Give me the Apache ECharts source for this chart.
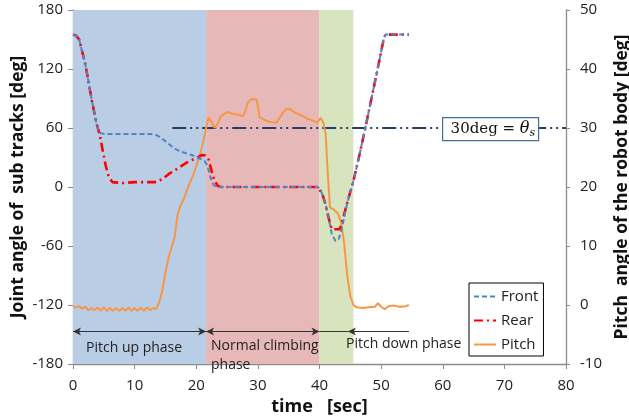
<!DOCTYPE html>
<html>
<head>
<meta charset="utf-8">
<script src="https://cdn.jsdelivr.net/npm/echarts@6/dist/echarts.min.js"></script>
<style>
  html, body { margin: 0; padding: 0; background: #fff; }
  #chart { width: 629px; height: 419px; }
</style>
</head>
<body>
<div id="chart"></div>
<script>
// [time (sec), joint angle (deg)]
const frontData = [
  [0, 155], [0.5, 154], [1, 150], [2, 125], [3, 90], [3.8, 65], [4.3, 55], [5, 54], [7, 54], [9, 54],
  [11, 54], [12.5, 54], [13.5, 53], [14.5, 49], [15.5, 44], [16.5, 39], [17.5, 36], [18.5, 34], [19.5, 32],
  [20.5, 29], [21.3, 27], [21.8, 22], [22.3, 10], [22.8, 2], [23.3, 0], [30, 0], [39.7, 0], [40.1, -2],
  [40.5, -8], [41, -18], [41.5, -32], [42, -48], [42.6, -55], [43.1, -53], [43.6, -43], [44.1, -28],
  [44.6, -14], [45.5, 6], [46.5, 33], [47.5, 62], [48.5, 92], [49.5, 122], [50.4, 150], [50.7, 155], [54.5, 155]
]
const rearData = [
  [0, 155], [0.5, 154], [1, 150], [2, 125], [3, 90], [3.8, 65], [4.3, 54], [4.8, 38], [5.3, 22], [5.8, 10],
  [6.4, 5], [8, 4], [10, 5], [12, 5], [13.5, 5], [14.5, 8], [15.5, 13], [16.5, 17], [17.5, 21], [18.5, 25],
  [19.5, 28], [20.5, 31], [21, 32.5], [21.5, 32], [22, 28], [22.5, 16], [23, 6], [23.5, 1], [24, 0], [39.8, 0],
  [40.5, -8], [41, -18], [41.5, -32], [42, -43], [43.3, -43], [43.8, -33], [44.4, -18], [45.5, 6], [46.5, 33],
  [47.5, 62], [48.5, 92], [49.5, 122], [50.4, 150], [50.7, 155], [54.5, 155]
]
// [time (sec), pitch angle (deg)]
const pitchData = [
  [0, -0.3], [0.5, -0.4], [1, -0.2], [1.5, -0.6], [2, -0.3], [2.5, -0.9], [3, -0.5], [3.5, -0.9], [4, -0.4],
  [4.5, -1.0], [5, -0.4], [5.5, -1.0], [6, -0.5], [6.5, -1.0], [7, -0.5], [7.5, -1.0], [8, -0.5], [8.5, -1.0],
  [9, -0.4], [9.5, -1.0], [10, -0.5], [10.5, -1.0], [11, -0.4], [11.5, -1.0], [12, -0.4], [12.5, -0.9],
  [13, -0.5], [13.5, -0.7], [14, 0.5], [14.5, 2.5], [15, 5.5], [15.5, 8], [16, 9.8], [16.5, 11.5], [17, 15.5],
  [17.5, 17], [18, 18], [18.5, 19.5], [19, 20.8], [19.5, 22], [20, 23.5], [20.5, 25.2], [21, 27], [21.5, 29.5],
  [22, 31.8], [22.5, 31], [23, 30], [23.5, 30.8], [24, 32], [25, 32.7], [26, 32.4], [27, 32.2], [27.6, 32.0],
  [28, 33], [28.4, 34.4], [29, 34.9], [29.8, 34.8], [30.3, 31.8], [31, 31.4], [32, 31], [33, 30.9], [34, 32.5],
  [34.6, 33.2], [35.2, 33.2], [36, 32.6], [37, 32.2], [38, 31.6], [39, 31.2], [39.6, 30.9], [40.2, 31.7],
  [40.6, 31], [41, 29], [41.3, 23], [41.7, 16.5], [42.3, 16.2], [43, 15.5], [43.5, 14], [44, 10.5], [44.5, 5],
  [45, 1.5], [45.5, 0], [46, -0.4], [47, -0.5], [48, -0.4], [49, -0.3], [49.5, 0.3], [50, -0.3], [50.6, -0.7],
  [51.2, -0.2], [52, -0.1], [53, -0.3], [54, -0.2], [54.5, 0]
]
// phase boundaries (sec) and the threshold line
const phaseBounds = [0, 21.6, 40, 45.5]
const phaseColors = ['#b9cde5', '#e6b9b8', '#d7e4bd']
const thresholdLine = [[16.1, 30], [80, 30]]
const arrowY = -147
const pitchDownEnd = 54.5

const chart = echarts.init(document.getElementById('chart'))

const axisFont = { fontFamily: 'Open Sans', fontSize: 15, color: '#222' }
const titleFont = { fontFamily: 'Open Sans', fontSize: 17.5, fontWeight: 'bold', color: '#111' }
const greyLine = { lineStyle: { color: '#8c8c8c', width: 1.3 } }

let option = {
  animation: false,
  grid: { left: 73, right: 63, top: 10, bottom: 55, outerBoundsMode: 'none', containLabel: false },
  xAxis: {
    type: 'value', min: 0, max: 80, interval: 10,
    axisLine: Object.assign({ onZero: false }, greyLine),
    axisTick: { show: true, length: 5, lineStyle: { color: '#8c8c8c' } },
    axisLabel: Object.assign({ margin: 14 }, axisFont),
    splitLine: { show: false },
    name: 'time   [sec]', nameLocation: 'middle', nameGap: 31,
    nameTextStyle: Object.assign({}, titleFont, { fontSize: 18 })
  },
  yAxis: [
    {
      type: 'value', min: -180, max: 180, interval: 60,
      axisLine: Object.assign({ show: true, onZero: false }, greyLine),
      axisTick: { show: true, length: 5, lineStyle: { color: '#8c8c8c' } },
      axisLabel: Object.assign({ margin: 10 }, axisFont),
      splitLine: { show: false },
      name: 'Joint angle of  sub tracks [deg]', nameLocation: 'middle', nameGap: 46, nameRotate: 90,
      nameMoveOverlap: false,
      nameTextStyle: titleFont
    },
    {
      type: 'value', min: -10, max: 50, interval: 10, position: 'right',
      axisLine: Object.assign({ show: true, onZero: false }, greyLine),
      axisTick: { show: true, length: 4, lineStyle: { color: '#8c8c8c' } },
      axisLabel: Object.assign({ margin: 14 }, axisFont),
      splitLine: { show: false },
      name: 'Pitch  angle of the robot body [deg]', nameLocation: 'middle', nameGap: 44, nameRotate: 90,
      nameTextStyle: titleFont
    }
  ],
  legend: {
    data: ['Front', 'Rear', 'Pitch'],
    orient: 'vertical', left: 469, top: 283,
    padding: [6, 5, 4, 4], itemGap: 9, itemWidth: 22, itemHeight: 16,
    borderColor: '#000', borderWidth: 1, backgroundColor: '#fff',
    itemStyle: { opacity: 0 },
    textStyle: { fontFamily: 'Open Sans', fontSize: 15, color: '#222' }
  },
  series: [
    {
      // phase shading and arrows
      type: 'line', data: [], silent: true, z: 1,
      markArea: {
        silent: true,
        data: [0, 1, 2].map(i => [
          { xAxis: phaseBounds[i], yAxis: 180, itemStyle: { color: phaseColors[i] } },
          { xAxis: phaseBounds[i + 1], yAxis: -180 }
        ])
      },
      markLine: {
        silent: true, symbol: ['arrow', 'arrow'], symbolSize: [6, 8],
        label: { show: false },
        lineStyle: { color: '#333', width: 1, type: 'solid' },
        data: [
          [{ coord: [phaseBounds[0], arrowY] }, { coord: [phaseBounds[1], arrowY] }],
          [{ coord: [phaseBounds[1], arrowY] }, { coord: [phaseBounds[2], arrowY] }],
          [{ coord: [44.6, arrowY], symbol: 'arrow' }, { coord: [pitchDownEnd, arrowY], symbol: 'none' }],
          [{ coord: [phaseBounds[2], arrowY], symbol: 'none' }, { coord: [44.6, arrowY], symbol: 'none' }]
        ]
      }
    },
    {
      // 30 deg threshold
      type: 'line', yAxisIndex: 1, data: thresholdLine, symbol: 'none', silent: true, z: 2,
      lineStyle: { color: '#243f6b', width: 2, type: [14, 4, 2, 4, 2, 4] }
    },
    {
      name: 'Pitch', type: 'line', yAxisIndex: 1, data: pitchData, symbol: 'none', z: 3,
      lineStyle: { color: '#f79646', width: 2 }, itemStyle: { color: '#f79646' }
    },
    {
      name: 'Rear', type: 'line', data: rearData, symbol: 'none', z: 4,
      lineStyle: { color: '#ff0000', width: 2.6, type: [9, 4, 2, 4] }, itemStyle: { color: '#ff0000' }
    },
    {
      name: 'Front', type: 'line', data: frontData, symbol: 'none', z: 5,
      lineStyle: { color: '#4f86c6', width: 2, type: [5, 3] }, itemStyle: { color: '#4f86c6' }
    }
  ],
  graphic: [
    { type: 'text', left: 86, top: 341, z: 100, style: { text: 'Pitch up phase', font: '14px "Open Sans"', fill: '#222' } },
    { type: 'text', left: 211, top: 337, z: 100, style: { text: 'Normal climbing\nphase', font: '14px "Open Sans"', fill: '#222', lineHeight: 19 } },
    { type: 'text', left: 346, top: 337, z: 100, style: { text: 'Pitch down phase', font: '14px "Open Sans"', fill: '#222' } },
    {
      type: 'group', left: 442, top: 117, z: 100,
      children: [
        { type: 'rect', z: 100, shape: { x: 0, y: 0, width: 96, height: 23 }, style: { fill: '#fff', stroke: '#41719c', lineWidth: 1.2 } },
        {
          type: 'text', x: 8, y: 2, z: 101,
          style: {
            text: '{a|30deg = }{b|θ}{s|s}',
            rich: {
              a: { fontFamily: 'DejaVu Serif', fontSize: 15, fill: '#111' },
              b: { fontFamily: 'DejaVu Serif', fontSize: 16, fontStyle: 'italic', fill: '#111' },
              s: { fontFamily: 'DejaVu Serif', fontSize: 11, fontStyle: 'italic', fill: '#111', padding: [8, 0, 0, 0] }
            }
          }
        }
      ]
    }
  ]
}

chart.setOption(option)
</script>
</body>
</html>
